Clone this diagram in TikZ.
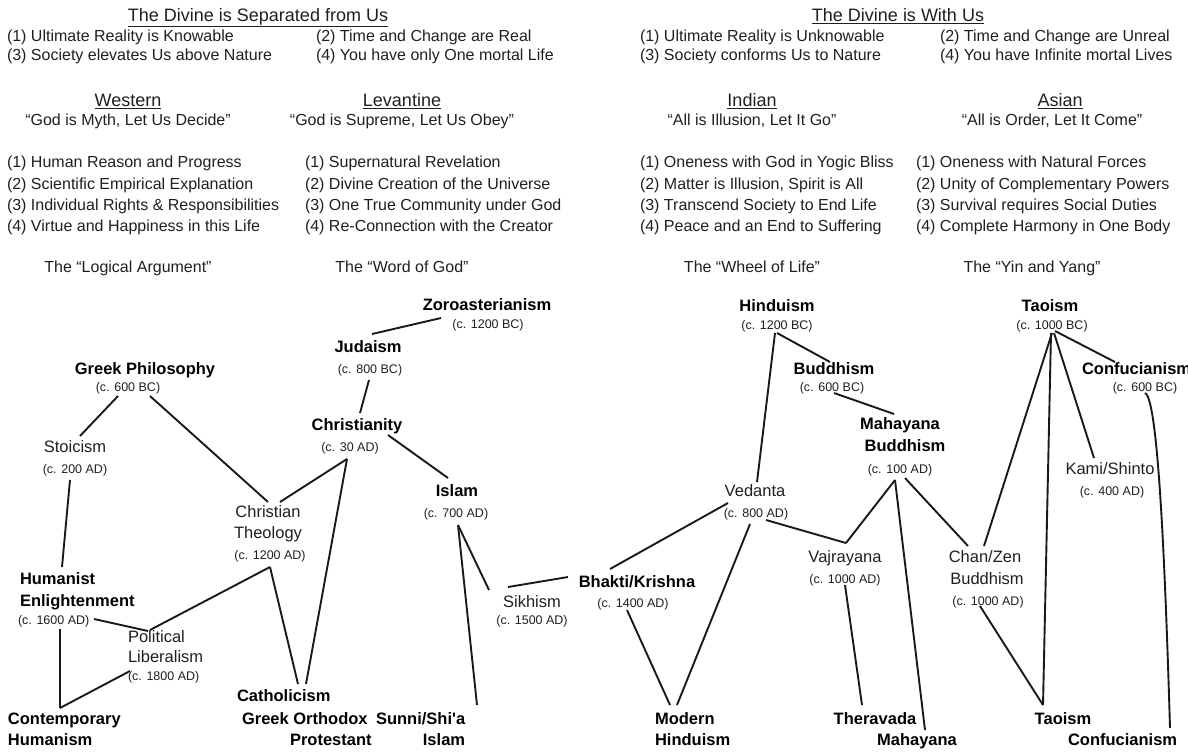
\documentclass[tikz,border=0pt]{standalone}
\usepackage{fontspec}
\setmainfont{Liberation Sans}
\usetikzlibrary{calc}
\tikzset{
  base/.style={inner sep=0pt, outer sep=0pt, text=black!88},
  hd/.style={base, font=\fontsize{18}{20}\selectfont, text height=13pt, text depth=4pt},
  tx/.style={base, anchor=west, font=\fontsize{16}{18}\selectfont, text height=11.5pt, text depth=3.4pt},
  tc/.style={base, font=\fontsize{16}{18}\selectfont, text height=11.5pt, text depth=3.4pt},
  bn/.style={base, text=black, font=\bfseries\fontsize{16.5}{19}\selectfont, text height=11.9pt, text depth=3.5pt},
  bw/.style={bn, anchor=west},
  rn/.style={base, font=\fontsize{16.5}{19}\selectfont, text height=11.9pt, text depth=3.5pt},
  rw/.style={rn, anchor=west},
  dt/.style={base, font=\fontsize{12.5}{14}\selectfont, text height=9pt, text depth=2.6pt},
  dw/.style={dt, anchor=west},
  ln/.style={line width=1.9pt, black!90}
}
\begin{document}
\begin{tikzpicture}[x=1pt, y=-1pt]
\useasboundingbox (0,0) rectangle (1188,753);
% headings
\node[hd] (h1) at (258,17) {\underline{The Divine is Separated from Us}};
\node[tx] (h1a) at (7,37) {(1) Ultimate Reality is Knowable};
\node[tx] (h1b) at (316,37) {(2) Time and Change are Real};
\node[tx] (h1c) at (7,56) {(3) Society elevates Us above Nature};
\node[tx] (h1d) at (316,56) {(4) You have only One mortal Life};
\node[hd] (h2) at (898,17) {\underline{The Divine is With Us}};
\node[tx] (h2a) at (640,37) {(1) Ultimate Reality is Unknowable};
\node[tx] (h2b) at (940,37) {(2) Time and Change are Unreal};
\node[tx] (h2c) at (640,56) {(3) Society conforms Us to Nature};
\node[tx] (h2d) at (940,56) {(4) You have Infinite mortal Lives};
% sections
\node[hd] (sw) at (128,102) {\underline{Western}};
\node[hd] (sl) at (402,102) {\underline{Levantine}};
\node[hd] (si) at (752,102) {\underline{Indian}};
\node[hd] (sa) at (1060,102) {\underline{Asian}};
\node[tc] (qw) at (128,121) {“God is Myth, Let Us Decide”};
\node[tc] (ql) at (402,121) {“God is Supreme, Let Us Obey”};
\node[tc] (qi) at (752,121) {“All is Illusion, Let It Go”};
\node[tc] (qa) at (1052,121) {“All is Order, Let It Come”};
% lists
\node[tx] (w1) at (7,163) {(1) Human Reason and Progress};
\node[tx] (w2) at (7,185) {(2) Scientific Empirical Explanation};
\node[tx] (w3) at (7,206) {(3) Individual Rights \& Responsibilities};
\node[tx] (w4) at (7,227) {(4) Virtue and Happiness in this Life};
\node[tx] (l1) at (305,163) {(1) Supernatural Revelation};
\node[tx] (l2) at (305,185) {(2) Divine Creation of the Universe};
\node[tx] (l3) at (305,206) {(3) One True Community under God};
\node[tx] (l4) at (305,227) {(4) Re-Connection with the Creator};
\node[tx] (i1) at (640,163) {(1) Oneness with God in Yogic Bliss};
\node[tx] (i2) at (640,185) {(2) Matter is Illusion, Spirit is All};
\node[tx] (i3) at (640,206) {(3) Transcend Society to End Life};
\node[tx] (i4) at (640,227) {(4) Peace and an End to Suffering};
\node[tx] (a1) at (916,163) {(1) Oneness with Natural Forces};
\node[tx] (a2) at (916,185) {(2) Unity of Complementary Powers};
\node[tx] (a3) at (916,206) {(3) Survival requires Social Duties};
\node[tx] (a4) at (916,227) {(4) Complete Harmony in One Body};
\node[tc] (tw) at (128,268) {The “Logical Argument”};
\node[tc] (tl) at (402,268) {The “Word of God”};
\node[tc] (ti) at (752,268) {The “Wheel of Life”};
\node[tc] (ta0) at (1032,268) {The “Yin and Yang”};
% tree nodes
\node[bn] (gp) at (145,370) {Greek Philosophy};
\node[dt] (gpd) at (128,388) {(c. 600 BC)};
\node[rn] (st) at (75,448) {Stoicism};
\node[dt] (std) at (75,470) {(c. 200 AD)};
\node[rn] (ct1) at (268,513) {Christian};
\node[rn] (ct2) at (268,534) {Theology};
\node[dt] (ctd) at (270,556) {(c. 1200 AD)};
\node[bw] (he1) at (20,580) {Humanist};
\node[bw] (he2) at (20,602) {Enlightenment};
\node[dw] (hed) at (18,621) {(c. 1600 AD)};
\node[rw] (pl1) at (128,638) {Political};
\node[rw] (pl2) at (128,658) {Liberalism};
\node[dw] (pld) at (128,677) {(c. 1800 AD)};
\node[bw] (ch1) at (8,720) {Contemporary};
\node[bw] (ch2) at (8,741) {Humanism};
\node[bn] (zo) at (487,306) {Zoroasterianism};
\node[dt] (zod) at (488,325) {(c. 1200 BC)};
\node[bn] (ju) at (368,348) {Judaism};
\node[dt] (jud) at (370,370) {(c. 800 BC)};
\node[bn] (cr) at (357,426) {Christianity};
\node[dt] (crd) at (350,448) {(c. 30 AD)};
\node[bn] (is) at (457,492) {Islam};
\node[dt] (isd) at (456,514) {(c. 700 AD)};
\node[bw] (ca1) at (237,697) {Catholicism};
\node[bw] (ca2) at (242,720) {Greek Orthodox};
\node[bw] (ca3) at (290,741) {Protestant};
\node[bw] (su1) at (376,720) {Sunni/Shi\textquotesingle a};
\node[bn] (su2) at (444,741) {Islam};
\node[rn] (sk) at (532,603) {Sikhism};
\node[dt] (skd) at (532,621) {(c. 1500 AD)};
\node[bn] (bk) at (637,583) {Bhakti/Krishna};
\node[dt] (bkd) at (633,604) {(c. 1400 AD)};
\node[bw] (mh1) at (655,720) {Modern};
\node[bw] (mh2) at (655,741) {Hinduism};
\node[bn] (hi) at (777,307) {Hinduism};
\node[dt] (hid) at (777,326) {(c. 1200 BC)};
\node[bn] (bu) at (834,370) {Buddhism};
\node[dt] (bud) at (832,388) {(c. 600 BC)};
\node[bn] (mb1) at (900,425) {Mahayana};
\node[bn] (mb2) at (905,447) {Buddhism};
\node[dt] (mbd) at (900,470) {(c. 100 AD)};
\node[rn] (ve) at (755,492) {Vedanta};
\node[dt] (ved) at (756,514) {(c. 800 AD)};
\node[rn] (vj) at (845,558) {Vajrayana};
\node[dt] (vjd) at (845,580) {(c. 1000 AD)};
\node[rn] (cz1) at (985,558) {Chan/Zen};
\node[rn] (cz2) at (987,580) {Buddhism};
\node[dt] (czd) at (988,602) {(c. 1000 AD)};
\node[bn] (ta) at (1050,307) {Taoism};
\node[dt] (tad) at (1052,326) {(c. 1000 BC)};
\node[bw] (co) at (1082,370) {Confucianism};
\node[dt] (cod) at (1145,388) {(c. 600 BC)};
\node[rn] (ks) at (1110,470) {Kami/Shinto};
\node[dt] (ksd) at (1112,492) {(c. 400 AD)};
\node[bn] (th) at (875,720) {Theravada};
\node[bn] (mah) at (917,741) {Mahayana};
\node[bn] (tb) at (1063,720) {Taoism};
\node[bw] (cb) at (1068,741) {Confucianism};
% connectors
\draw[ln] ($(gpd)+(-10,8)$) -- ($(st)+(5,-12)$);
\draw[ln] ($(gpd)+(22,8)$) -- ($(ct1)+(0,-11)$);
\draw[ln] ($(std)+(-5,10)$) -- ($(he1.west)+(42,-13)$);
\draw[ln] ($(crd)+(-3,11)$) -- ($(ct1)+(12,-11)$);
\draw[ln] ($(crd)+(-3,11)$) -- ($(ca1.west)+(69,-13)$);
\draw[ln] ($(ctd)+(0,11)$) -- ($(ca1.west)+(61,-13)$);
\draw[ln] ($(ctd)+(0,11)$) -- ($(pl1.west)+(22,-8)$);
\draw[ln] ($(hed.west)+(76,-2)$) -- ($(pl1.west)+(20,-7)$);
\draw[ln] ($(hed.west)+(42,8)$) -- ($(ch1.west)+(52,-12)$);
\draw[ln] ($(ch1.west)+(52,-12)$) -- ($(pld.west)+(2,-6)$);
\draw[ln] ($(zo)+(-46,12)$) -- ($(ju)+(4,-14)$);
\draw[ln] ($(jud)+(-1,10)$) -- ($(cr)+(3,-13)$);
\draw[ln] ($(cr)+(31,9)$) -- ($(is)+(-9,-14)$);
\draw[ln] ($(isd)+(2,11)$) -- ($(su1.west)+(101,-15)$);
\draw[ln] ($(isd)+(2,11)$) -- ($(sk)+(-43,-13)$);
\draw[ln] ($(sk)+(-24,-16)$) -- ($(bkd)+(-65,-27)$);
\draw[ln] ($(bk)+(-27,-14)$) -- ($(ve)+(-27,11)$);
\draw[ln] ($(bkd)+(-6,6)$) -- ($(mh1.west)+(15,-15)$);
\draw[ln] ($(ved)+(-6,10)$) -- ($(mh1.west)+(22,-15)$);
\draw[ln] ($(hid)+(-2,7)$) -- ($(ve)+(2,-10)$);
\draw[ln] ($(hid)+(0,7)$) -- ($(bu)+(-4,-8)$);
\draw[ln] ($(bud)+(2,5)$) -- ($(mb1)+(-6,-11)$);
\draw[ln] ($(ved)+(10,6)$) -- ($(vj)+(1,-15)$);
\draw[ln] ($(vj)+(1,-15)$) -- ($(mbd)+(-5,10)$);
\draw[ln] ($(mbd)+(-5,10)$) -- ($(mah)+(8,-11)$);
\draw[ln] ($(mbd)+(5,8)$) -- ($(cz1)+(-17,-12)$);
\draw[ln] ($(vjd)+(0,5)$) -- ($(th)+(-13,-15)$);
\draw[ln] ($(czd)+(-8,4)$) -- ($(tb)+(-20,-15)$);
\draw[ln] ($(tad)+(-1,7)$) -- ($(tb)+(-20,-15)$);
\draw[ln] ($(tad)+(0,7)$) -- ($(cz1)+(-1,-12)$);
\draw[ln] ($(tad)+(2,7)$) -- ($(ks)+(-16,-12)$);
\draw[ln] ($(tad)+(3,5)$) -- ($(co.west)+(33,-8)$);
\draw[ln] ($(cod)+(0,5)$) .. controls ($(cod)+(13,10)$) and ($(cb.west)+(97,-180)$) .. ($(cb.west)+(102,-13)$);
\end{tikzpicture}
\end{document}
